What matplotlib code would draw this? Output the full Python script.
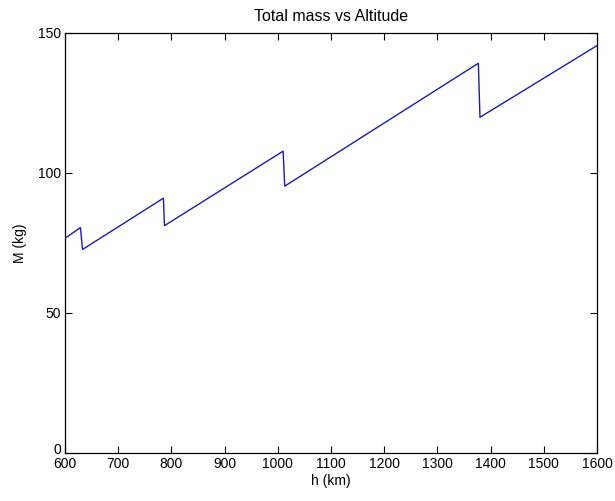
import matplotlib
matplotlib.use("Agg")
import matplotlib.pyplot as plt
import matplotlib.transforms as mtransforms

h_km = [600, 629, 633, 785, 787, 1010, 1013, 1377, 1380, 1600]
mass_kg = [76.7, 80.5, 72.7, 91.0, 81.2, 107.8, 95.3, 139.2, 119.9, 145.5]

x_ticks = [600, 700, 800, 900, 1000, 1100, 1200, 1300, 1400, 1500, 1600]
y_ticks = [0, 50, 100, 150]

plt.rcParams['font.family'] = ['Liberation Sans', 'DejaVu Sans']

fig = plt.figure(figsize=(6.15, 5.01), dpi=100)
ax = fig.add_axes([65/615, (501-453)/501, 532/615, 420/501])
ax.plot(h_km, mass_kg, color='#1c1ca8', linewidth=1.0)
ax.set_xlim(600, 1600)
ax.set_ylim(0, 150)
ax.set_xticks(x_ticks)
ax.set_yticks(y_ticks)
ax.tick_params(direction='in', top=True, right=True, labelsize=10, length=5, width=0.8, pad=3)
for s in ax.spines.values():
    s.set_linewidth(0.9)
ax.set_xlabel('h (km)', fontsize=10, labelpad=2)
ax.set_ylabel('M (kg)', fontsize=10, labelpad=8)
ax.set_title('Total mass vs Altitude', fontsize=11.5, pad=9)

# MATLAB places the lowest y tick label slightly above the corner
fig.canvas.draw()
ylabels = ax.get_yticklabels()
off = mtransforms.ScaledTranslation(0, 4/100, fig.dpi_scale_trans)
ylabels[0].set_transform(ylabels[0].get_transform() + off)
fig.savefig('out.png', dpi=100)
